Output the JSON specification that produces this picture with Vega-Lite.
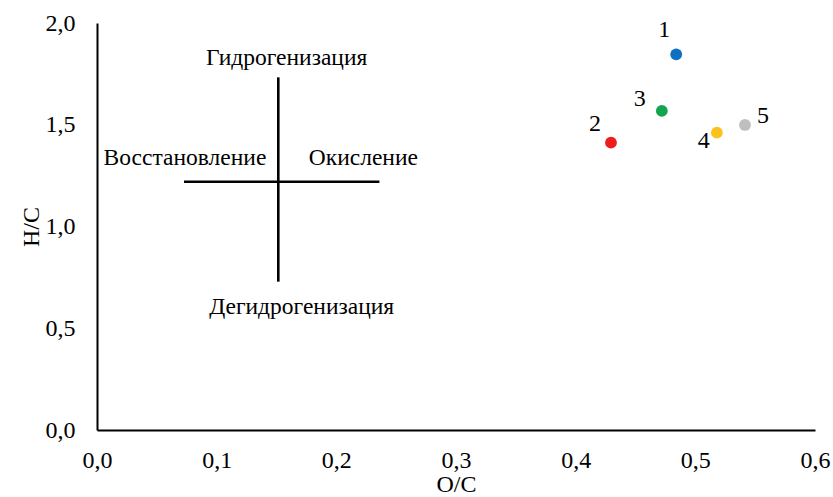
{
  "$schema": "https://vega.github.io/schema/vega-lite/v6.json",
  "width": 718,
  "height": 407,
  "autosize": "none",
  "padding": {"left": 97, "top": 23, "right": 18, "bottom": 67},
  "background": "white",
  "config": {
    "view": {"stroke": null},
    "font": "Liberation Serif",
    "axis": {
      "grid": false,
      "ticks": false,
      "labelFlush": false,
      "domainColor": "#000000",
      "domainWidth": 2,
      "labelFont": "Liberation Serif",
      "labelFontSize": 24,
      "labelColor": "#000000",
      "titleFont": "Liberation Serif",
      "titleFontSize": 24,
      "titleFontWeight": "normal",
      "titleColor": "#000000"
    }
  },
  "datasets": {
    "points": [
      {"label": "1", "oc": 0.484, "hc": 1.846, "color": "#0f6fc0"},
      {"label": "2", "oc": 0.4295, "hc": 1.412, "color": "#ee1c1c"},
      {"label": "3", "oc": 0.472, "hc": 1.568, "color": "#12a54d"},
      {"label": "4", "oc": 0.518, "hc": 1.461, "color": "#fdc11e"},
      {"label": "5", "oc": 0.5415, "hc": 1.499, "color": "#bfbfbf"}
    ],
    "lines": [
      {"id": "v", "x1": 0.1515, "y1": 0.729, "x2": 0.1515, "y2": 1.733},
      {"id": "h", "x1": 0.0727, "y1": 1.22, "x2": 0.236, "y2": 1.22}
    ],
    "notes": [
      {"text": "Гидрогенизация", "oc": 0.1585, "hc": 1.827},
      {"text": "Восстановление", "oc": 0.0735, "hc": 1.335},
      {"text": "Окисление", "oc": 0.2226, "hc": 1.335},
      {"text": "Дегидрогенизация", "oc": 0.171, "hc": 0.606}
    ]
  },
  "layer": [
    {
      "data": {"name": "lines"},
      "mark": {"type": "rule", "color": "#000000", "strokeWidth": 2.6},
      "encoding": {
        "x": {"field": "x1", "type": "quantitative", "scale": {"domain": [0, 0.6], "nice": false},
          "axis": {"title": "O/C", "values": [0, 0.1, 0.2, 0.3, 0.4, 0.5, 0.6], "labelPadding": 18, "titlePadding": 0,
            "labelExpr": "replace(format(datum.value, '.1f'), '.', ',')"}},
        "x2": {"field": "x2"},
        "y": {"field": "y1", "type": "quantitative", "scale": {"domain": [0, 2], "nice": false},
          "axis": {"title": "H/C", "values": [0, 0.5, 1, 1.5, 2], "labelPadding": 22, "titlePadding": 2,
            "labelExpr": "replace(format(datum.value, '.1f'), '.', ',')"}},
        "y2": {"field": "y2"}
      }
    },
    {
      "data": {"name": "notes"},
      "mark": {"type": "text", "fontSize": 23.5, "font": "Liberation Serif", "color": "#000000", "baseline": "middle", "align": "center"},
      "encoding": {
        "x": {"field": "oc", "type": "quantitative"},
        "y": {"field": "hc", "type": "quantitative"},
        "text": {"field": "text"}
      }
    },
    {
      "data": {"name": "points"},
      "mark": {"type": "circle", "size": 140, "opacity": 1},
      "encoding": {
        "x": {"field": "oc", "type": "quantitative"},
        "y": {"field": "hc", "type": "quantitative"},
        "color": {"field": "color", "type": "nominal", "scale": null}
      }
    },
    {
      "data": {"name": "points"},
      "transform": [{"filter": "datum.label == '1'"}],
      "mark": {"type": "text", "fontSize": 24, "dx": -12, "dy": -24, "baseline": "middle", "align": "center", "color": "#000000"},
      "encoding": {"x": {"field": "oc", "type": "quantitative"}, "y": {"field": "hc", "type": "quantitative"}, "text": {"field": "label"}}
    },
    {
      "data": {"name": "points"},
      "transform": [{"filter": "datum.label == '2'"}],
      "mark": {"type": "text", "fontSize": 24, "dx": -16, "dy": -19, "baseline": "middle", "align": "center", "color": "#000000"},
      "encoding": {"x": {"field": "oc", "type": "quantitative"}, "y": {"field": "hc", "type": "quantitative"}, "text": {"field": "label"}}
    },
    {
      "data": {"name": "points"},
      "transform": [{"filter": "datum.label == '3'"}],
      "mark": {"type": "text", "fontSize": 24, "dx": -22, "dy": -12, "baseline": "middle", "align": "center", "color": "#000000"},
      "encoding": {"x": {"field": "oc", "type": "quantitative"}, "y": {"field": "hc", "type": "quantitative"}, "text": {"field": "label"}}
    },
    {
      "data": {"name": "points"},
      "transform": [{"filter": "datum.label == '4'"}],
      "mark": {"type": "text", "fontSize": 24, "dx": -13, "dy": 8, "baseline": "middle", "align": "center", "color": "#000000"},
      "encoding": {"x": {"field": "oc", "type": "quantitative"}, "y": {"field": "hc", "type": "quantitative"}, "text": {"field": "label"}}
    },
    {
      "data": {"name": "points"},
      "transform": [{"filter": "datum.label == '5'"}],
      "mark": {"type": "text", "fontSize": 24, "dx": 18, "dy": -9, "baseline": "middle", "align": "center", "color": "#000000"},
      "encoding": {"x": {"field": "oc", "type": "quantitative"}, "y": {"field": "hc", "type": "quantitative"}, "text": {"field": "label"}}
    }
  ]
}
